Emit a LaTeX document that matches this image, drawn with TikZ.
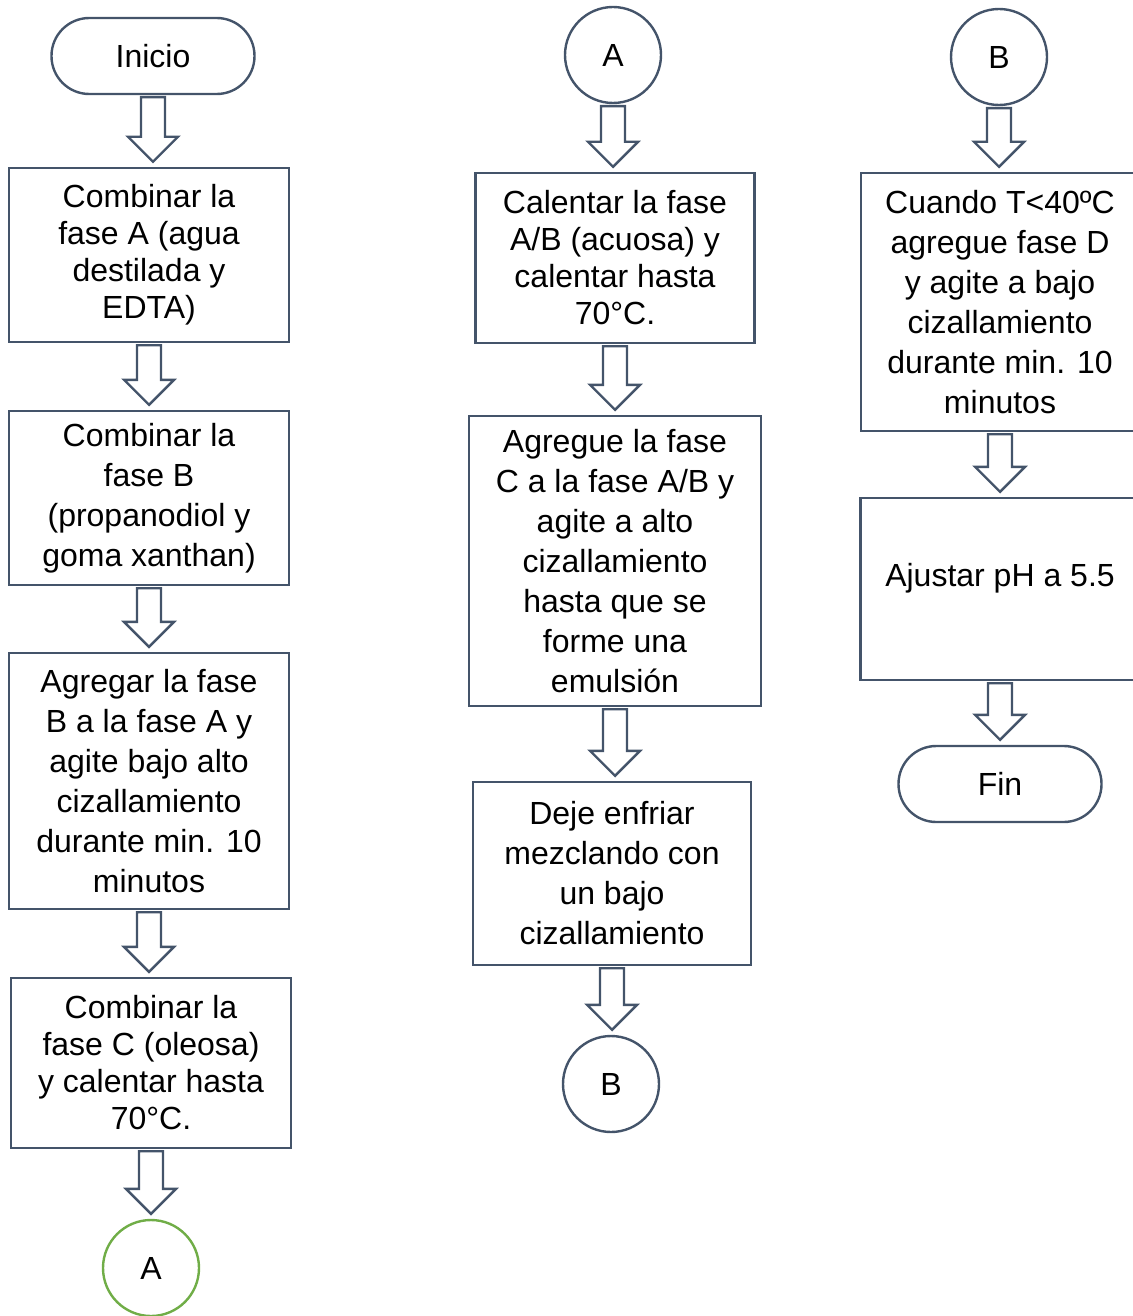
\documentclass[tikz,border=0pt]{standalone}
\usepackage{fontspec}
\setmainfont{Liberation Sans}
\usetikzlibrary{calc}

\definecolor{linea}{HTML}{44546A}
\definecolor{verde}{HTML}{70AD47}

\tikzset{
  caja/.style={draw=linea, line width=1.2pt, align=center, inner sep=0pt,
    font=\fontsize{16}{20}\selectfont},
  cajaj/.style={caja, font=\fontsize{16}{18.5}\selectfont},
  terminal/.style={caja, rounded corners=18.9pt, minimum width=101.5pt, minimum height=38pt},
  conector/.style={caja, circle, minimum size=48pt},
  flecha/.style={draw=linea, line width=1.2pt, fill=white, line join=miter}
}

\newcommand{\flecha}[2]{%
  \draw[flecha] let \p1=($(#1.south)+(0,2)$), \p2=($(#2.north)+(0,-5)$) in
    (\x1-6pt,\y1) -- (\x1+6pt,\y1) -- (\x1+6pt,\y2+12.5pt) -- (\x1+12.5pt,\y2+12.5pt)
    -- (\x1,\y2) -- (\x1-12.5pt,\y2+12.5pt) -- (\x1-6pt,\y2+12.5pt) -- cycle;}

\begin{document}
\begin{tikzpicture}[x=0.5pt,y=-0.5pt]
\useasboundingbox (0,0) rectangle (1132,1316);

\node[terminal] (inicio) at (153,56) {Inicio};
\node[cajaj, minimum width=140pt, minimum height=87pt] (combA) at (149,255)
  {Combinar la\\fase A (agua\\destilada y\\EDTA)};
\node[caja, minimum width=140pt, minimum height=87pt] (combB) at (149,498)
  {Combinar la\\fase B\\(propanodiol y\\goma xanthan)};
\node[caja, minimum width=140pt, minimum height=128pt] (agregar) at (149,781)
  {Agregar la fase\\B a la fase A y\\agite bajo alto\\cizallamiento\\durante min. 10\\minutos};
\node[cajaj, minimum width=140pt, minimum height=85pt] (combC) at (151,1063)
  {Combinar la\\fase C (oleosa)\\y calentar hasta\\70°C.};
\node[conector, draw=verde] (conA) at (151,1268) {A};

\node[conector] (conA2) at (613,55) {A};
\node[cajaj, minimum width=139.5pt, minimum height=85pt] (calentar) at (615,258)
  {Calentar la fase\\A/B (acuosa) y\\calentar hasta\\70°C.};
\node[caja, minimum width=146pt, minimum height=145pt] (agregue) at (615,561)
  {Agregue la fase\\C a la fase A/B y\\agite a alto\\cizallamiento\\hasta que se\\forme una\\emulsión};
\node[caja, minimum width=139pt, minimum height=91.5pt] (enfriar) at (612,873.5)
  {Deje enfriar\\mezclando con\\un bajo\\cizallamiento};
\node[conector] (conB) at (611,1084) {B};

\node[conector] (conB2) at (999,57) {B};
\node[caja, minimum width=139pt, minimum height=129pt] (cuando) at (1000,302)
  {Cuando T<40ºC\\agregue fase D\\y agite a bajo\\cizallamiento\\durante min. 10\\minutos};
\node[caja, minimum width=139.5pt, minimum height=91pt] (ajustar) at (1000,589)
  {\raisebox{5.5pt}[\height][\depth]{Ajustar pH a 5.5}};
\node[terminal] (fin) at (1000,784) {Fin};

\flecha{inicio}{combA}
\flecha{combA}{combB}
\flecha{combB}{agregar}
\flecha{agregar}{combC}
\flecha{combC}{conA}
\flecha{conA2}{calentar}
\flecha{calentar}{agregue}
\flecha{agregue}{enfriar}
\flecha{enfriar}{conB}
\flecha{conB2}{cuando}
\flecha{cuando}{ajustar}
\flecha{ajustar}{fin}

\end{tikzpicture}
\end{document}
